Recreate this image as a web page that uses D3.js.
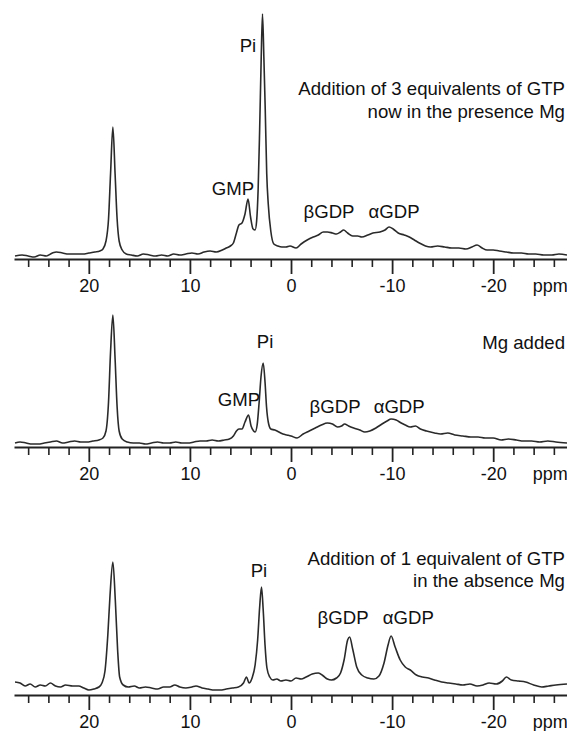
<!DOCTYPE html>
<html>
<head>
<meta charset="utf-8">
<script src="https://cdn.jsdelivr.net/npm/d3@7/dist/d3.min.js"></script>
<style>
  html, body { margin: 0; padding: 0; background: #fff; }
  svg { display: block; font-family: "Liberation Sans", Arial, Helvetica, sans-serif; }
</style>
</head>
<body>
<svg id="chart" width="567" height="731"></svg>
<script>
// ---------------- DATA ----------------
const majorTicks = [20, 10, 0, -10, -20];
const minorTicks = [26, 24, 22, 18, 16, 14, 12, 8, 6, 4, 2, -2, -4, -6, -8, -12, -14, -16, -18, -22, -24, -26];
const unitLabel = "ppm";

// [ppm, intensity (a.u.)]
const spectrumGTP3Mg = [
  [27.3,3],[26.6,4],[26,3],[25.4,2],[24.8,4],[24.2,3],[23.6,6],[23.2,7],[22.6,6],[22,5],[21.3,5],[20.6,5],[20,6],[19.4,7],[18.9,8],
  [18.6,10],[18.3,18],[18.05,40],[17.85,85],[17.62,132],[17.4,85],[17.2,40],[17.0,18],[16.7,9],[16.3,5],
  [15.8,4],[15.2,3],[14.6,5],[14,4],[13.4,3],[12.8,4],[12.2,3],[11.6,5],[11,4],[10.4,5],[9.8,6],[9.2,5],[8.6,7],[8,8],[7.4,7],[6.8,9],[6.4,11],
  [6,13],[5.7,16],[5.4,26],[5.15,34],[4.85,36],[4.55,45],[4.25,60],[4.0,42],[3.75,30],[3.55,29],
  [3.4,38],[3.25,70],[3.1,130],[2.95,200],[2.82,245],[2.68,200],[2.55,150],[2.4,85],[2.25,55],[2.0,28],[1.7,15],
  [1.3,13],[0.9,12],[0.5,12],[0.1,13],[-0.5,11],[-1.0,15],[-1.6,19],[-2.2,22],[-2.7,24],[-3.2,27],[-3.6,27],[-4.1,26],[-4.5,25],
  [-4.9,27],[-5.2,29],[-5.6,26],[-6.1,23],[-6.6,23],[-7,22],[-7.6,24],[-8.1,26],[-8.8,27],[-9.3,29],[-9.7,32],[-10.1,30],[-10.6,26],
  [-11.2,24],[-11.7,22],[-12.2,19],[-12.7,16],[-13.3,13],[-13.8,12],[-14.5,13],[-15.2,12],[-15.9,11],[-16.6,11],[-17.3,10],
  [-17.9,12],[-18.4,14],[-18.9,11],[-19.4,9],[-20,9],[-20.6,8],[-21.3,7],[-22,6],[-22.8,6],[-23.5,5],[-24.2,5],[-25,4],[-25.8,4],[-26.5,5],[-27.3,4]
];

const spectrumMgAdded = [
  [27.3,4],[26.8,5],[26.2,4],[25.6,3],[25,3],[24.4,4],[23.8,5],[23.2,6],[22.6,4],[22,5],[21.4,6],[20.8,5],[20.2,5],[19.6,6],[19.0,7],
  [18.6,9],[18.3,16],[18.05,45],[17.85,95],[17.62,132],[17.4,88],[17.2,40],[17.0,16],[16.7,8],[16.2,5],
  [15.6,4],[15,4],[14.4,3],[13.8,4],[13.2,5],[12.6,4],[12,4],[11.4,5],[10.8,4],[10.2,4],[9.6,5],[9,6],[8.4,6],[7.8,7],[7.2,6],[6.6,7],
  [6.1,8],[5.7,11],[5.4,16],[5.15,18],[4.85,18],[4.55,25],[4.2,32],[3.95,21],[3.7,16],[3.55,15],
  [3.35,22],[3.15,45],[2.97,70],[2.75,84],[2.57,65],[2.42,40],[2.25,25],[2.0,18],[1.6,17],
  [1.2,15],[0.8,13],[0.4,12],[0,11],[-0.6,9],[-1.2,13],[-1.8,16],[-2.4,19],[-3,22],[-3.6,24],[-4.1,23],[-4.6,20],[-5,21],
  [-5.3,23],[-5.7,21],[-6.2,19],[-6.8,17],[-7.3,15],[-7.8,16],[-8.4,19],[-9,23],[-9.5,26],[-9.9,28],[-10.4,27],[-10.9,24],
  [-11.3,22],[-11.8,20],[-12.3,21],[-12.8,18],[-13.4,16],[-14.2,14],[-14.8,13],[-15.5,14],[-16.2,12],[-17,11],[-17.8,10],
  [-18.5,10],[-19.2,9],[-20,9],[-20.8,7],[-21.5,8],[-22.3,7],[-23,6],[-23.8,6],[-24.6,5],[-25.4,6],[-26.2,5],[-27.3,4]
];

const spectrumGTP1NoMg = [
  [27.3,13],[26.8,12],[26.3,9],[25.8,11],[25.3,8],[24.8,10],[24.3,9],[23.8,12],[23.3,9],[22.8,8],[22.3,10],[21.6,9],[21,9],[20.5,7],[20,5],
  [19.5,6],[19.0,8],[18.7,12],[18.4,24],[18.12,60],[17.9,100],[17.62,133],[17.38,95],[17.15,45],[16.95,18],[16.6,10],[16.1,8],
  [15.5,9],[15,7],[14.4,8],[13.8,7],[13.2,6],[12.6,8],[12,8],[11.5,10],[11,8],[10.4,7],[9.8,8],[9.4,9],[8.8,7],[8.2,6],[7.6,5],[7,5],
  [6.4,6],[5.8,7],[5.2,8],[4.7,12],[4.4,18],[4.15,12],[3.85,17],
  [3.55,30],[3.3,55],[3.1,88],[2.92,108],[2.75,85],[2.57,50],[2.38,27],[2.1,18],[1.8,15],
  [1.4,16],[1.0,14],[0.5,15],[0,14],[-0.5,17],[-1,16],[-1.5,18],[-2.1,21],[-2.7,22],[-3.2,19],[-3.6,16],[-4.0,15],[-4.5,17],
  [-4.9,22],[-5.25,35],[-5.6,55],[-5.8,58],[-6.1,46],[-6.5,28],[-7,20],[-7.6,17],[-8.2,16],[-8.7,19],[-9.2,32],[-9.6,50],[-9.9,59],
  [-10.3,48],[-10.8,35],[-11.3,28],[-11.8,25],[-12.4,20],[-13,18],[-13.6,17],[-14.2,15],[-14.9,13],[-15.6,12],[-16.3,11],
  [-17,10],[-17.7,11],[-18.4,9],[-19,10],[-19.6,12],[-20.3,11],[-20.9,14],[-21.3,18],[-21.8,15],[-22.5,14],[-23.2,13],
  [-24,10],[-24.8,8],[-25.5,9],[-26.2,10],[-27.3,11]
];

// annotations: [text, ppm, intensity, anchor]
const labelsPanel1 = [
  ["Pi", 4.26, 207, "middle"],
  ["GMP", 5.74, 64, "middle"],
  ["βGDP", -3.76, 41, "middle"],
  ["αGDP", -10.2, 41, "middle"],
  ["Addition of 3 equivalents of GTP", -27.1, 164, "end"],
  ["now in the presence Mg", -27.1, 141, "end"]
];
const labelsPanel2 = [
  ["Pi", 2.57, 99, "middle"],
  ["GMP", 5.15, 41, "middle"],
  ["βGDP", -4.36, 34, "middle"],
  ["αGDP", -10.7, 34, "middle"],
  ["Mg added", -27.1, 98, "end"]
];
const labelsPanel3 = [
  ["Pi", 3.17, 118, "middle"],
  ["βGDP", -5.15, 71, "middle"],
  ["αGDP", -11.6, 71, "middle"],
  ["Addition of 1 equivalent of GTP", -27.1, 130, "end"],
  ["in the absence Mg", -27.1, 108, "end"]
];

// ---------------- DRAW ----------------
const svg = d3.select("#chart");
const x = d3.scaleLinear().domain([27.4, -27.3]).range([14, 567]);

const panels = [
  { data: spectrumGTP3Mg, labels: labelsPanel1, axisY: 259 },
  { data: spectrumMgAdded, labels: labelsPanel2, axisY: 447 },
  { data: spectrumGTP1NoMg, labels: labelsPanel3, axisY: 695 }
];

panels.forEach(p => {
  const y = d3.scaleLinear().domain([0, 250]).range([p.axisY, p.axisY - 250]);
  const g = svg.append("g");

  const line = d3.line()
    .x(d => x(d[0]))
    .y(d => y(d[1]))
    .curve(d3.curveMonotoneX);

  g.append("path")
    .datum(p.data)
    .attr("fill", "none")
    .attr("stroke", "#2a2a2a")
    .attr("stroke-width", 1.6)
    .attr("stroke-linejoin", "round")
    .attr("d", line);

  // minor ticks
  const minorAxis = d3.axisBottom(x).tickValues(minorTicks).tickSize(8).tickSizeOuter(0).tickFormat("");
  const gm = g.append("g").attr("transform", `translate(0,${p.axisY})`).call(minorAxis);
  gm.select(".domain").remove();
  gm.selectAll(".tick line").attr("stroke", "#222").attr("stroke-width", 1.6);

  // major ticks + labels
  const majorAxis = d3.axisBottom(x).tickValues(majorTicks).tickSize(15).tickSizeOuter(0).tickPadding(5)
    .tickFormat(d => d < 0 ? "-" + Math.abs(d) : String(d));
  const ga = g.append("g").attr("transform", `translate(0,${p.axisY})`).call(majorAxis);
  ga.select(".domain").attr("stroke", "#222").attr("stroke-width", 2);
  ga.selectAll(".tick line").attr("stroke", "#222").attr("stroke-width", 1.8);
  ga.selectAll(".tick text").attr("font-size", 18).attr("fill", "#111")
    .attr("font-family", "'Liberation Sans', Arial, sans-serif");

  ga.append("text")
    .attr("x", x(-23.9))
    .attr("y", 33)
    .attr("text-anchor", "start")
    .attr("font-size", 18)
    .attr("fill", "#111")
    .attr("font-family", "'Liberation Sans', Arial, sans-serif")
    .text(unitLabel);

  g.selectAll("text.ann")
    .data(p.labels)
    .enter().append("text")
    .attr("class", "ann")
    .attr("x", d => x(d[1]))
    .attr("y", d => y(d[2]))
    .attr("text-anchor", d => d[3])
    .attr("font-size", 18.6)
    .attr("fill", "#111")
    .text(d => d[0]);
});
</script>
</body>
</html>
